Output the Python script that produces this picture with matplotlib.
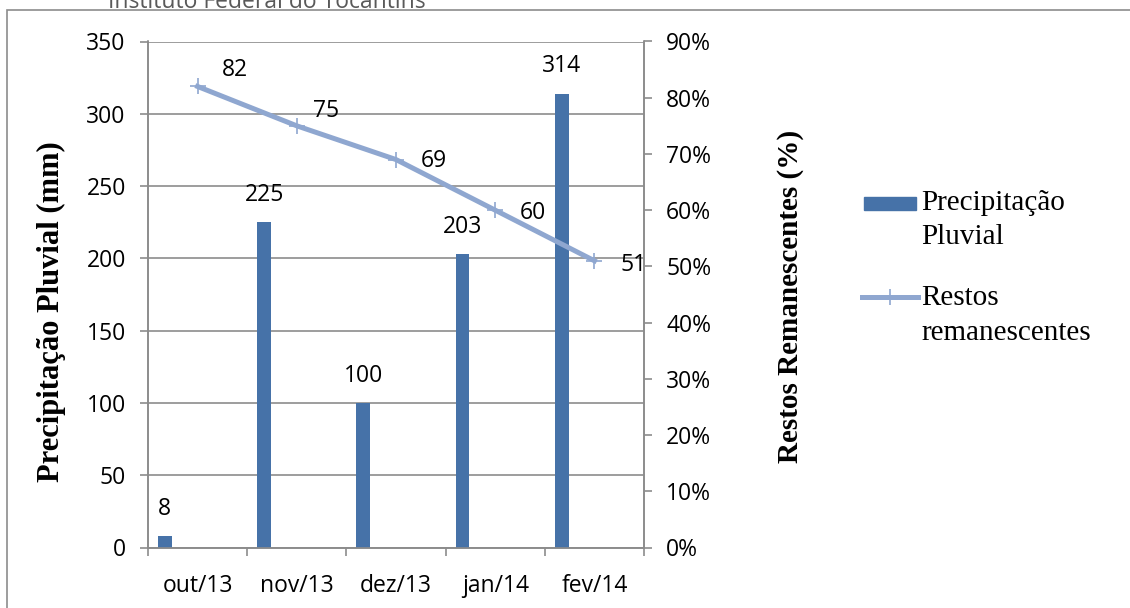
import numpy as np
import matplotlib
matplotlib.use("Agg")
import matplotlib.pyplot as plt
from matplotlib.lines import Line2D
from matplotlib.patches import Rectangle

meses = ["out/13", "nov/13", "dez/13", "jan/14", "fev/14"]
precipitacao = [8, 225, 100, 203, 314]
restos = [82, 75, 69, 60, 51]
# deslocamento dos rotulos da linha (pontos)
label_offsets = [(27, 12), (21, 11), (27, -1), (27, -2), (28, -3)]

cor_barra = "#4672A8"
cor_linha = "#8FA7D0"
cor_grade = "#8C8C8C"
fonte_tick = "Open Sans"
fs = 16.5

W, H = 1130, 608
fig = plt.figure(figsize=(W / 100, H / 100), dpi=100)
ax = fig.add_axes([148 / W, 1 - 547.5 / H, 496 / W, 506 / H])
ax2 = ax.twinx()

x = np.arange(len(meses))
ax.bar(x - 0.33, precipitacao, width=0.14, color=cor_barra, zorder=3)
for xi, v in zip(x, precipitacao):
    ax.annotate(str(v), (xi - 0.33, v), xytext=(0, 19.5), textcoords="offset points",
                ha="center", va="center", fontsize=fs, family=fonte_tick)

ax2.plot(x, restos, color=cor_linha, lw=3.6, marker="+", ms=11, mew=1.2, zorder=4)
for xi, v, off in zip(x, restos, label_offsets):
    ax2.annotate(str(v), (xi, v), xytext=off, textcoords="offset points",
                 ha="center", va="center", fontsize=fs, family=fonte_tick)

ax.set_xlim(-0.5, len(meses) - 0.5)
ax.set_ylim(0, 350)
ax.set_yticks(range(0, 351, 50))
ax2.set_ylim(0, 90)
ax2.set_yticks(range(0, 91, 10))
ax2.set_yticklabels([f"{t}%" for t in range(0, 91, 10)])

ax.set_xticks(x)
ax.set_xticklabels(meses)
ax.set_xticks(np.arange(len(meses) + 1) - 0.5, minor=True)
ax.tick_params(axis="x", which="major", length=0, pad=19)
ax.tick_params(axis="x", which="minor", length=6, color=cor_grade, width=1.2)
ax.tick_params(axis="y", length=6, color=cor_grade, width=1.2, pad=10)
ax2.tick_params(axis="y", length=6, color=cor_grade, width=1.2, pad=10)

for a in (ax, ax2):
    for lab in a.get_xticklabels() + a.get_yticklabels():
        lab.set_fontsize(fs)
        lab.set_family(fonte_tick)
    for s in a.spines.values():
        s.set_color(cor_grade)
        s.set_linewidth(1.2)
    a.spines["top"].set_visible(False)

ax.yaxis.grid(True, color=cor_grade, lw=1.2, zorder=0)
ax.set_axisbelow(True)

fig.text(51 / W, 1 - 312 / H, "Precipitação Pluvial (mm)", rotation=90,
         ha="center", va="center", family="Liberation Serif", fontweight="bold", fontsize=22)
fig.text(791 / W, 1 - 296 / H, "Restos Remanescentes (%)", rotation=90,
         ha="center", va="center", family="Liberation Serif", fontweight="bold", fontsize=21)

# legenda montada a mao (alca alinhada com a primeira linha do texto)
fig.add_artist(Rectangle((864 / W, 1 - 210 / H), 52 / W, 13 / H,
                         transform=fig.transFigure, color=cor_barra))
fig.add_artist(Line2D([862 / W, 890 / W, 918 / W], [1 - 297 / H] * 3,
                      transform=fig.transFigure, color=cor_linha, lw=3.6,
                      marker="+", ms=11, mew=1.2, markevery=[1]))
leg_linhas = [("Precipitação", 203), ("Pluvial", 237),
              ("Restos", 298), ("remanescentes", 333)]
for txt, yy in leg_linhas:
    fig.text(921 / W, 1 - yy / H, txt, ha="left", va="center",
             family="Liberation Serif", fontsize=21)

# moldura externa e titulo cortado
fig.add_artist(Rectangle((7 / W, -0.05), 1.2, 1 - 10 / H + 0.05,
                         transform=fig.transFigure, fill=False,
                         edgecolor="#8C8C8C", lw=1.2))
fig.text(108 / W, 1 - 8 / H, "Instituto Federal do Tocantins", fontsize=fs,
         family=fonte_tick, color="#595959", va="baseline")

fig.savefig("out.png", dpi=100)
